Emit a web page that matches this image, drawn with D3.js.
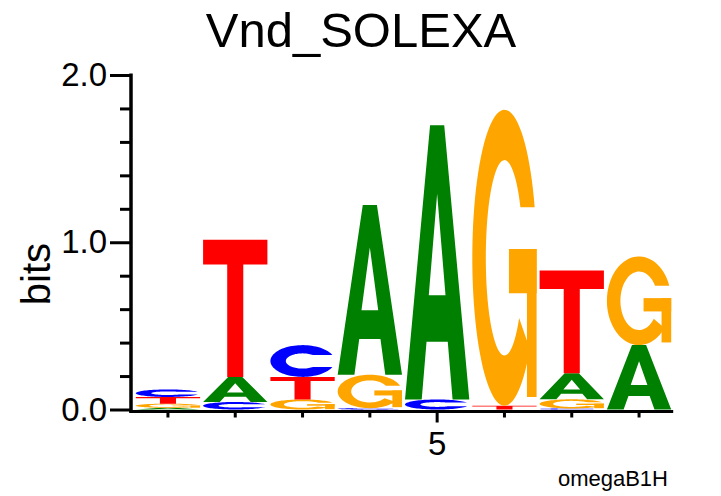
<!DOCTYPE html>
<html><head><meta charset="utf-8">
<script src="https://cdn.jsdelivr.net/npm/d3@7"></script>
<style>body{margin:0;background:#fff} svg{display:block} text{font-family:"Liberation Sans",Arial,Helvetica,sans-serif;fill:#000}</style>
</head><body><svg id="c" width="721" height="496"></svg>
<script>
// ---- data ----
const positions = [1, 2, 3, 4, 5, 6, 7, 8];
const bitsA = [0.010, 0.150, 0.000, 1.015, 1.640, 0.000, 0.155, 0.385];
const bitsC = [0.045, 0.045, 0.190, 0.008, 0.060, 0.000, 0.006, 0.000];
const bitsG = [0.025, 0.000, 0.060, 0.200, 0.000, 1.770, 0.055, 0.530];
const bitsT = [0.040, 0.820, 0.135, 0.000, 0.000, 0.022, 0.615, 0.000];
const yMajorTicks = [0, 1, 2];
const yMinorTicks = [0.2, 0.4, 0.6, 0.8, 1.2, 1.4, 1.6, 1.8];
const xLabeledTicks = [5];
const titleText = "Vnd_SOLEXA";
const yLabelText = "bits";
const footText = "omegaB1H";
const letterColors = {A: "#008000", C: "#0000ff", G: "#ffa500", T: "#ff0000"};

// ---- glyph shapes in unit box ----
function ell(cx, cy, rx, ry, a0, a1, n) {
  const pts = [];
  for (let i = 0; i <= n; i++) {
    const a = (a0 + (a1 - a0) * i / n) * Math.PI / 180;
    pts.push([cx + rx * Math.cos(a), cy - ry * Math.sin(a)]);
  }
  return pts;
}
function poly(pts) { return "M" + pts.map(p => p[0].toFixed(4) + "," + p[1].toFixed(4)).join("L") + "Z"; }
function rect(x0, y0, x1, y1) { return poly([[x0, y0], [x1, y0], [x1, y1], [x0, y1]]); }
function angFor(yOff, ry) { return Math.asin(Math.min(1, yOff / ry)) * 180 / Math.PI; }

const glyphs = {
  A: [{d: poly([[0,1],[0.39,0],[0.61,0],[1,1],[0.74,1],[0.665,0.79],[0.335,0.79],[0.26,1]]) +
          poly([[0.37,0.62],[0.5,0.25],[0.63,0.62]]), rule: "evenodd"}],
  T: [{d: rect(0, 0, 1, 0.18) + rect(0.375, 0.17, 0.625, 1), rule: "nonzero"}],
  C: (function() {
    const oa = 22, yo = 0.5 * Math.sin(oa * Math.PI / 180);
    const ia = angFor(yo, 0.24);
    const outer = ell(0.5, 0.5, 0.5, 0.5, oa, 360 - oa, 80);
    const inner = ell(0.5, 0.5, 0.26, 0.24, 360 - ia, ia, 60);
    return [{d: poly(outer.concat(inner)), rule: "nonzero"}];
  })(),
  G: (function() {
    const oa = 20, yo = 0.5 * Math.sin(oa * Math.PI / 180);
    const ia = angFor(yo, 0.33);
    const outer = ell(0.5, 0.5, 0.5, 0.5, oa, 322, 80);
    const inner = ell(0.5, 0.5, 0.29, 0.33, 322, ia, 60);
    return [{d: poly(outer.concat(inner)), rule: "nonzero"},
            {d: rect(0.57, 0.47, 1.0, 0.62), rule: "nonzero"},
            {d: rect(0.85, 0.47, 1.0, 0.97), rule: "nonzero"}];
  })()
};

// ---- layout ----
const svg = d3.select("#c");
const x = d3.scaleBand().domain(positions).range([134.3, 672.7]).padding(0);
const y = d3.scaleLinear().domain([0, 2]).range([409.5, 75]);

const table = positions.map((p, i) => ({
  pos: p,
  letters: [{l: "A", v: bitsA[i]}, {l: "C", v: bitsC[i]}, {l: "G", v: bitsG[i]}, {l: "T", v: bitsT[i]}]
    .filter(e => e.v > 0).sort((a, b) => a.v - b.v)
}));

const cols = svg.append("g").selectAll("g.col").data(table).join("g").attr("class", "col");
cols.each(function(col) {
  let cum = 0;
  const g = d3.select(this);
  col.letters.forEach(e => {
    const top = y(cum + e.v), bot = y(cum);
    const x0 = x(col.pos) + 1.5, w = x.bandwidth() - 3;
    const lg = g.append("g").attr("transform", `translate(${x0},${top}) scale(${w},${bot - top})`);
    glyphs[e.l].forEach(s => lg.append("path").attr("d", s.d).attr("fill", letterColors[e.l]).attr("fill-rule", s.rule));
    cum += e.v;
  });
});

// ---- y axis ----
const axX = 131;
const yMaj = svg.append("g").attr("transform", `translate(${axX},0)`)
  .call(d3.axisLeft(y).tickValues(yMajorTicks).tickFormat(d3.format(".1f")).tickSize(21).tickSizeOuter(0).tickPadding(3));
const yMin = svg.append("g").attr("transform", `translate(${axX},0)`)
  .call(d3.axisLeft(y).tickValues(yMinorTicks).tickFormat("").tickSize(11).tickSizeOuter(0));
[yMaj, yMin].forEach(a => {
  a.selectAll("line").attr("stroke", "#000").attr("stroke-width", 3);
  a.select(".domain").attr("stroke", "#000").attr("stroke-width", 3.5);
});
yMaj.selectAll("text").attr("font-size", 33).attr("font-family", "Liberation Sans, Arial, sans-serif").attr("fill", "#000");
yMaj.select(".domain").attr("d", `M0,${y(2) - 1.5}V${412.5}`);
yMin.select(".domain").remove();

// ---- x axis ----
const xAxisY = 411.5;
const xa = svg.append("g").attr("transform", `translate(0,${xAxisY})`)
  .call(d3.axisBottom(x).tickValues(positions).tickSize(6).tickSizeOuter(0)
    .tickFormat(d => xLabeledTicks.includes(d) ? String(d) : ""));
xa.select(".domain").attr("d", `M${axX - 1.75},0H${x.range()[1] + 0.5}`).attr("stroke", "#000").attr("stroke-width", 3);
xa.selectAll("line").attr("stroke", "#000").attr("stroke-width", 3);
xa.selectAll(".tick").filter(d => xLabeledTicks.includes(d)).select("line").attr("y2", 11);
xa.selectAll("text").attr("font-size", 33).attr("font-family", "Liberation Sans, Arial, sans-serif").attr("fill", "#000")
  .attr("y", 20).attr("dy", "0.71em");

// ---- texts ----
svg.append("text").attr("x", 361).attr("y", 47).attr("text-anchor", "middle").attr("font-size", 49).text(titleText);
svg.append("text").attr("transform", "translate(50,274) rotate(-90)").attr("text-anchor", "middle").attr("font-size", 40).text(yLabelText);
svg.append("text").attr("x", 668).attr("y", 486).attr("text-anchor", "end").attr("font-size", 22).text(footText);
</script></body></html>
